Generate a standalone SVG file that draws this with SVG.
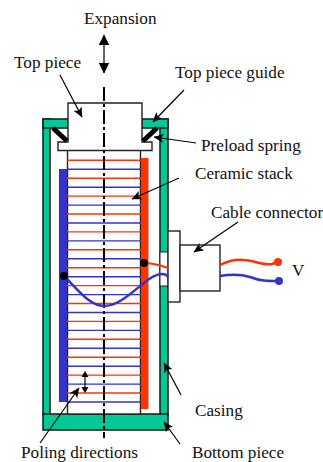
<svg xmlns="http://www.w3.org/2000/svg" width="323" height="462" viewBox="0 0 323 462">
<style>
text{font-family:"Liberation Serif","Times New Roman",serif;font-size:17.200px;fill:#111}
.g{fill:#00c896;stroke:#222;stroke-width:1.6}
.w{fill:#fff;stroke:#222;stroke-width:1.4}
.r{stroke:#ff3300;stroke-width:1.4;fill:none}
.b{stroke:#3333cc;stroke-width:1.4;fill:none}
.l{stroke:#000;stroke-width:1.2;fill:none}
</style>
<defs>
<marker id="a" viewBox="0 0 10 10" refX="9.500" refY="5" markerWidth="10" markerHeight="10" markerUnits="userSpaceOnUse" orient="auto"><path d="M0 0.500L10 5L0 9.500L2.500 5z" fill="#000"/></marker>
<marker id="t" viewBox="0 0 10 10" refX="9.500" refY="5" markerWidth="11" markerHeight="11" markerUnits="userSpaceOnUse" orient="auto-start-reverse"><path d="M0 0L10 5L0 10z" fill="#000"/></marker>
</defs>
<g id="casing">
<rect class="g" x="43" y="119" width="7" height="296"/>
<rect class="g" x="160" y="119" width="8" height="296"/>
<rect class="g" x="43" y="119" width="25" height="9"/>
<rect class="g" x="142" y="119" width="26" height="9"/>
<rect x="160" y="252" width="8" height="34" fill="#fff" stroke="#222"/>
</g>
<g id="bottom-piece"><rect class="g" x="43" y="414" width="125" height="16"/></g>
<g id="ceramic-stack">
<rect class="w" x="67.500" y="150" width="73" height="264"/>
<path class="r" d="M67 160.300H141M67 178.200H141M67 196.100H141M67 214H141M67 231.900H141M67 249.800H141M67 267.700H141M67 285.600H141M67 303.500H141M67 321.400H141M67 339.300H141M67 357.200H141M67 375.100H141M67 393H141"/>
<path class="b" d="M67 169.300H141M67 187.200H141M67 205.100H141M67 223H141M67 240.900H141M67 258.800H141M67 276.700H141M67 294.600H141M67 312.500H141M67 330.400H141M67 348.300H141M67 366.200H141M67 384.100H141M67 402H141"/>
<rect x="59" y="169" width="8" height="233" fill="#3333cc"/>
<rect x="141" y="158" width="7.500" height="251" fill="#ff3300"/>
</g>
<g id="top-piece">
<path class="w" d="M68 103H142V142H152V150.500H58V142H68Z"/>
</g>
<g id="preload-spring" stroke="#000" stroke-width="5">
<line x1="53" y1="128" x2="67" y2="141"/>
<line x1="157" y1="128" x2="143" y2="141"/>
</g>
<g id="cable-connector">
<rect class="w" x="168" y="231" width="12" height="71"/>
<rect class="w" x="180" y="245" width="40" height="46"/>
</g>
<g id="connectors">
<line x1="104" y1="87" x2="104" y2="438" stroke="#000" stroke-width="2" stroke-dasharray="14 3 3 3"/>
<line x1="104" y1="35" x2="104" y2="73" stroke="#000" stroke-width="1.200" marker-start="url(#t)" marker-end="url(#t)"/>
<line x1="85" y1="376" x2="85" y2="388" class="l"/>
<path d="M85 371L81.500 377H88.500ZM85 393L81.500 387H88.500Z"/>
<line x1="60" y1="75" x2="82" y2="117" class="l" marker-end="url(#a)"/>
<line x1="184" y1="90" x2="153" y2="122" class="l" marker-end="url(#a)"/>
<line x1="196" y1="143" x2="154" y2="137" class="l" marker-end="url(#a)"/>
<line x1="179" y1="178" x2="132" y2="199" class="l" marker-end="url(#a)"/>
<line x1="238" y1="222" x2="194" y2="252" class="l" marker-end="url(#a)"/>
<line x1="181" y1="395" x2="164" y2="363" class="l" marker-end="url(#a)"/>
<line x1="180" y1="444" x2="164" y2="422" class="l" marker-end="url(#a)"/>
<line x1="40" y1="443" x2="79" y2="388" class="l" marker-end="url(#a)"/>
<path d="M143 263C150 263 160 265 168 268" fill="none" stroke="#ff3300" stroke-width="2"/>
<path d="M64 276C78 290 90 306 104 306C126 306 146 274 162 274C165 274 167 275 168 277" fill="none" stroke="#3333cc" stroke-width="2.500"/>
<path d="M220 265C228 261 236 259 244 260C256 261 264 266 272 264L278 262" fill="none" stroke="#ff3300" stroke-width="2.500"/>
<path d="M220 276C232 274 240 274 250 277C260 281 268 281 279 281" fill="none" stroke="#3333cc" stroke-width="2.500"/>
<circle cx="64" cy="276" r="4" fill="#000"/>
<circle cx="144" cy="263" r="4" fill="#000"/>
<circle cx="278" cy="262" r="4" fill="#ff3300"/>
<circle cx="279" cy="281" r="4" fill="#3333cc"/>
</g>
<g id="labels">
<text x="84" y="24">Expansion</text>
<text x="14" y="68">Top piece</text>
<text x="175" y="78">Top piece guide</text>
<text x="201" y="151">Preload spring</text>
<text x="195" y="179">Ceramic stack</text>
<text x="211" y="218">Cable connector</text>
<text x="292" y="276">V</text>
<text x="195" y="416">Casing</text>
<text x="192" y="458">Bottom piece</text>
<text x="21" y="458">Poling directions</text>
</g>
</svg>
